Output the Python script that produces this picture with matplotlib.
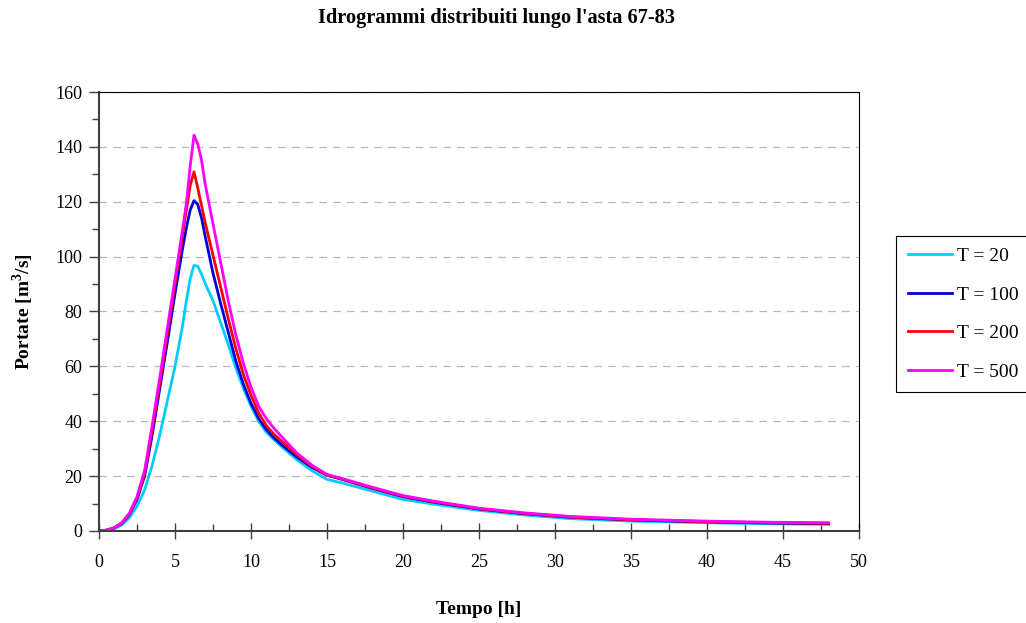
import matplotlib
matplotlib.use("Agg")
import matplotlib.pyplot as plt
from matplotlib.ticker import MultipleLocator

plt.rcParams["font.family"] = ["Liberation Serif", "DejaVu Serif"]
plt.rcParams["mathtext.fontset"] = "custom"
plt.rcParams["mathtext.rm"] = "Liberation Serif"
plt.rcParams["mathtext.bf"] = "Liberation Serif:bold"

# tempo [h]
tempo = [0, 0.5, 1, 1.5, 2, 2.5, 3, 3.5, 4, 4.5, 5, 5.5, 5.75, 6, 6.25, 6.5,
         6.75, 7, 7.5, 8, 8.5, 9, 9.5, 10, 10.5, 11, 11.5, 12, 13, 14, 15, 16,
         18, 20, 22, 25, 28, 31, 35, 40, 44, 48]

# portate [m3/s] per tempo di ritorno
q_t20 = [0, 0.2, 0.8, 2.2, 4.8, 9, 15, 24, 35, 47.5, 60, 75, 84, 92, 96.8, 96.5,
         93.5, 90, 84, 76, 68, 59.5, 52, 45.5, 40, 36, 33.3, 30.8, 26, 22, 18.8,
         17.5, 14.5, 11.5, 9.8, 7.5, 5.8, 4.5, 3.6, 3.0, 2.6, 2.4]
q_t100 = [0, 0.3, 1.1, 2.8, 6, 11.5, 20, 35, 52, 69, 86.5, 103, 110.5, 117,
          120.4, 119, 114, 107, 94, 83, 72.5, 62, 53.5, 46.5, 41, 37, 34, 31.5,
          27, 23.2, 20.3, 18.8, 15.5, 12.5, 10.5, 8.0, 6.3, 5.0, 4.0, 3.3, 2.9,
          2.7]
q_t200 = [0, 0.3, 1.15, 2.9, 6.2, 12, 21, 37, 54, 72, 90, 108, 117, 126, 130.9,
          125, 118.5, 112, 100.5, 89, 77.5, 66.5, 57, 49.5, 43, 38.5, 35.3, 32.8,
          27.8, 23.6, 20.4, 18.9, 15.7, 12.7, 10.7, 8.1, 6.4, 5.1, 4.1, 3.4,
          3.0, 2.8]
q_t500 = [0, 0.3, 1.2, 3.0, 6.5, 12.5, 22, 38.5, 56, 74, 92, 110, 119.5, 133,
          144.3, 141, 135, 126, 112, 98, 84, 71.5, 61, 52.5, 45.5, 41, 37.5, 34.5,
          28.5, 24, 20.6, 19.1, 15.9, 12.9, 10.9, 8.3, 6.6, 5.3, 4.3, 3.6, 3.2,
          3.0]

series = [
    ("T = 20", q_t20, "#00CCFF"),
    ("T = 100", q_t100, "#0000DD"),
    ("T = 200", q_t200, "#FF0000"),
    ("T = 500", q_t500, "#FF00FF"),
]

fig = plt.figure(figsize=(10.26, 6.23), dpi=100)
ax = fig.add_axes([0.0965, 0.1477, 0.7407, 0.7046])

for label, q, col in series:
    ax.plot(tempo, q, color=col, lw=2.0, label=label)

ax.set_xlim(0, 50)
ax.set_ylim(0, 160)
ax.xaxis.set_major_locator(MultipleLocator(5))
ax.xaxis.set_minor_locator(MultipleLocator(2.5))
ax.yaxis.set_major_locator(MultipleLocator(20))
ax.yaxis.set_minor_locator(MultipleLocator(10))

ax.yaxis.grid(True, which="major", color="#b8b8b8", linestyle=(0, (6, 5)), lw=0.9)
ax.set_axisbelow(True)

for side in ["left", "bottom"]:
    ax.spines[side].set_color("#404040")
    ax.spines[side].set_linewidth(1.5)
for side in ["top", "right"]:
    ax.spines[side].set_color("black")
    ax.spines[side].set_linewidth(0.8)

ax.tick_params(axis="y", which="major", direction="out", length=7, width=1, color="#404040", labelsize=13, pad=5)
ax.tick_params(axis="y", which="minor", direction="out", length=5, width=1, color="#404040")
ax.tick_params(axis="x", which="major", direction="inout", length=11, width=1, color="#404040", labelsize=13, pad=11)
ax.tick_params(axis="x", which="minor", direction="in", length=5, width=1, color="#404040")

ax.set_xlabel("Tempo [h]", fontsize=14, fontweight="bold")
ax.set_ylabel(r"Portate [m$^\mathbf{3}$/s]", fontsize=14, fontweight="bold")
ax.xaxis.set_label_coords(0.5, -0.16)
ax.yaxis.set_label_coords(-0.083, 0.5)

fig.text(0.484, 0.971, "Idrogrammi distribuiti lungo l'asta 67-83", ha="center", va="center",
         fontsize=14.7, fontweight="bold")

leg = fig.legend(loc="upper left", bbox_to_anchor=(0.8733, 0.6212), fontsize=14,
                 handlelength=2.3, handletextpad=0.25, labelspacing=1.07,
                 borderpad=0.6, borderaxespad=0, fancybox=False, framealpha=1)
leg.get_frame().set_edgecolor("black")
leg.get_frame().set_linewidth(0.8)

fig.savefig("out.png", dpi=100)
